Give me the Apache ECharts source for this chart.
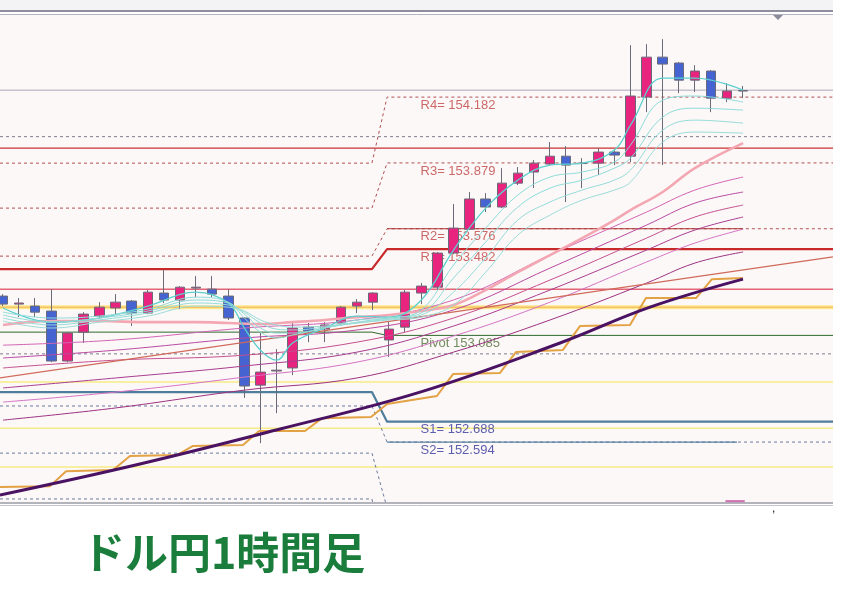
<!DOCTYPE html>
<html><head><meta charset="utf-8">
<script src="https://cdn.jsdelivr.net/npm/echarts@6/dist/echarts.min.js"></script>
<style>html,body{margin:0;padding:0;background:#fff}#c{width:842px;height:610px}</style>
</head><body><div id="c"></div>
<script>
// ---- candles (hourly USD/JPY), index = position in array ----
const candleOpen  = [153.266,153.229,153.220,153.197,152.967,153.100,153.174,153.211,153.243,153.188,153.280,153.248,153.303,153.298,153.266,153.165,152.856,152.921,152.935,153.123,153.114,153.142,153.220,153.238,153.064,153.123,153.280,153.307,153.464,153.574,153.713,153.676,153.786,153.837,153.874,153.910,153.878,153.878,153.929,153.910,154.182,154.366,154.339,154.260,154.302,154.177,154.210];
const candleClose = [153.229,153.234,153.192,152.967,153.096,153.183,153.215,153.238,153.188,153.284,153.248,153.307,153.307,153.275,153.165,152.852,152.916,152.925,153.119,153.105,153.133,153.215,153.238,153.280,153.114,153.284,153.312,153.464,153.579,153.713,153.676,153.786,153.832,153.878,153.910,153.869,153.876,153.929,153.915,154.187,154.366,154.334,154.260,154.302,154.177,154.210,154.212];
const candleLow   = [153.220,153.169,153.169,152.962,152.962,153.050,153.165,153.179,153.128,153.183,153.234,153.206,153.261,153.261,153.156,152.797,152.589,152.727,152.902,153.054,153.054,153.133,153.188,153.202,152.985,153.100,153.229,153.294,153.459,153.570,153.653,153.671,153.777,153.763,153.869,153.699,153.763,153.823,153.869,153.883,154.113,153.869,154.200,154.205,154.113,154.159,154.177];
const candleHigh  = [153.275,153.257,153.257,153.298,153.100,153.192,153.238,153.275,153.248,153.294,153.386,153.312,153.358,153.358,153.298,153.169,153.096,153.022,153.151,153.142,153.146,153.220,153.252,153.284,153.146,153.294,153.326,153.469,153.690,153.745,153.740,153.855,153.860,153.892,153.975,153.956,153.901,153.947,153.938,154.421,154.426,154.449,154.343,154.329,154.306,154.246,154.233];

// ---- fast moving averages (cyan group), read at these candle indices ----
const cyanIdx = [0,3,6,9,12,14,15,16,17,18,20,22,24,26,28,30,32,34,36,38,39,41,43,46];
const cyan1 = [153.211,153.146,153.165,153.220,153.284,153.234,153.119,153.017,152.971,153.050,153.119,153.174,153.169,153.248,153.478,153.671,153.800,153.869,153.878,153.938,154.053,154.269,154.269,154.214];
const cyan2 = [153.192,153.165,153.174,153.206,153.261,153.238,153.165,153.100,153.073,153.087,153.119,153.156,153.165,153.202,153.409,153.579,153.731,153.814,153.837,153.883,153.961,154.168,154.187,154.159];
const cyan3 = [153.179,153.146,153.165,153.197,153.248,153.234,153.183,153.119,153.096,153.096,153.119,153.146,153.165,153.188,153.349,153.515,153.676,153.763,153.800,153.855,153.901,154.090,154.131,154.122];
const cyan4 = [153.165,153.133,153.156,153.188,153.234,153.225,153.192,153.142,153.114,153.110,153.123,153.142,153.160,153.179,153.284,153.441,153.616,153.699,153.754,153.800,153.846,154.030,154.076,154.062];
const cyan5 = [153.151,153.119,153.146,153.174,153.220,153.215,153.197,153.156,153.133,153.123,153.128,153.142,153.156,153.169,153.225,153.376,153.547,153.639,153.708,153.754,153.791,153.975,154.021,154.016];

// ---- light pink thick average ----
const pinkIdx = [0,3,6,9,12,14,16,18,20,22,24,26,28,30,32,34,36,38,39,41,43,46];
const pinkSlow = [153.133,153.151,153.151,153.146,153.146,153.142,153.137,153.146,153.156,153.169,153.179,153.197,153.225,153.294,153.376,153.455,153.533,153.616,153.662,153.745,153.855,153.970];

// ---- slow moving averages (magenta group) ----
const magIdx = [0,7,15,22,28,34,40,43,46];
const mag1 = [153.040,153.064,153.119,153.156,153.248,153.455,153.653,153.754,153.814];
const mag2 = [152.981,153.017,153.073,153.110,153.202,153.395,153.593,153.694,153.745];
const mag3 = [152.935,152.971,152.994,153.054,153.165,153.340,153.533,153.630,153.685];
const mag4 = [152.843,152.889,152.944,153.008,153.128,153.294,153.478,153.570,153.630];
const mag5 = [152.778,152.824,152.893,152.962,153.082,153.238,153.423,153.510,153.574];
const mag6 = [152.695,152.751,152.833,152.889,153.008,153.156,153.326,153.418,153.469];

// ---- orange stair line, purple curve, red trend ----
const stairX = [-0.19,2.92,3.92,6.84,7.89,10.81,11.81,14.92,15.91,18.77,19.83,22.87,23.87,26.97,27.97,30.89,31.88,34.80,35.86,38.97,39.96,43.07,44.06,45.99];
const stairY = [152.387,152.391,152.460,152.465,152.530,152.534,152.576,152.580,152.645,152.645,152.704,152.709,152.769,152.806,152.907,152.912,153.008,153.018,153.128,153.133,153.257,153.257,153.344,153.349];
const purpleX = [-0.19,8.51,17.22,25.92,34.62,40.21,45.99];
const purpleY = [152.350,152.493,152.654,152.824,153.050,153.215,153.344];
const trendX = [-0.19,51.58];
const trendY = [152.889,153.446];

// ---- pivot levels: previous day and today ----
const levelNames = ['R4','R3','R2','R1','Pivot','S1','S2','S3','S4'];
const prevLevels  = [153.878,153.671,153.450,153.390,153.100,152.824,152.760,152.543,152.332];
const todayLevels = [154.182,153.879,153.576,153.482,153.085,152.688,152.594,152.291,151.988];
const levelLabels = ['R4= 154.182','R3= 153.879','R2= 153.576','R1= 153.482','Pivot 153.085','S1= 152.688','S2= 152.594'];

// ---- other horizontal levels ----
const greyLevel = [154.214];
const roundLevels = [154.000,153.000];
const redLevel = [153.947];
const pinkLevel = [153.298];
const yellowThick = [153.215];
const yellowLevels = [152.870,152.658,152.479];

// axis extents and day boundary positions (in candle-index units)
const xMin = -0.186, xMax = 51.585, yMin = 152.318, yMax = 154.560;
const dayEnd = 22.93, dayStart = 23.87, lastCandle = 45.99, labelX = 25.92;

const chart = echarts.init(document.getElementById('c'), null, {renderer:'canvas'});
const series = [];
function addLine(pts, color, width, type, z, smooth){
  series.push({type:'line', data:pts, showSymbol:false, symbol:'none', smooth:smooth||false,
    lineStyle:{color:color, width:width, type:type||'solid'},
    z:z||3, silent:true, animation:false});
}
const zip = (xs, ys) => xs.map((x,i)=>[x, ys[i]]);

// full width levels
greyLevel.forEach(v=>addLine([[xMin,v],[xMax,v]],'#a8a8b8',1,'solid',1));
roundLevels.forEach(v=>addLine([[xMin,v],[xMax,v]],'#7c7c8c',1,[3,3],1));
redLevel.forEach(v=>addLine([[xMin,v],[xMax,v]],'#c83232',1.3,'solid',1));
pinkLevel.forEach(v=>addLine([[xMin,v],[xMax,v]],'#e26475',1.5,'solid',1));
yellowThick.forEach(v=>{addLine([[xMin,v],[xMax,v]],'#ffe98e',4,'solid',1); addLine([[xMin,v],[xMax,v]],'#f2b055',1,'solid',1);});
yellowLevels.forEach(v=>addLine([[xMin,v],[xMax,v]],'#f6ec86',1.5,'solid',1));

// pivot step lines
const levelStyle = {
  R4:['#b05050',1,[3,3]], R3:['#b05050',1,[3,3]], R2:['#b05050',1,[3,3]], R1:['#c82828',2.2,'solid'],
  Pivot:['#2e6a2e',1,'solid'], S1:['#4f7d9c',2.2,'solid'], S2:['#6a7a9a',1,[3,3]], S3:['#6a7a9a',1,[3,3]], S4:['#6a7a9a',1,[3,3]]
};
levelNames.forEach((n,i)=>{
  const st = levelStyle[n];
  addLine([[xMin,prevLevels[i]],[dayEnd,prevLevels[i]],[dayStart,todayLevels[i]],[xMax,todayLevels[i]]], st[0], st[1], st[2], 1);
});
addLine([[dayStart,todayLevels[2]],[lastCandle,todayLevels[2]]],'#b03434',1,'solid',1);
addLine([[dayStart,todayLevels[6]],[45.62,todayLevels[6]]],'#5a80a2',1.3,'solid',1);

// level labels (drawn beneath the candles)
const labelColors = levelLabels.map((t,i)=> i<4 ? '#c04444' : (i===4 ? '#4c7034' : '#32369a'));
series.push({type:'scatter', symbol:'circle', symbolSize:1, silent:true, z:1, animation:false,
  itemStyle:{color:'rgba(0,0,0,0)'},
  data: levelLabels.map((t,i)=>({value:[labelX, todayLevels[i]], name:t,
    label:{color:labelColors[i]}})),
  label:{show:true, position:'right', distance:0, offset:[0,8], formatter:p=>p.name,
    fontFamily:'Liberation Sans, Arial, sans-serif', fontSize:13}
});

// candles
series.push({type:'candlestick', z:2, animation:false, barWidth:10,
  encode:{x:0, y:[1,2,3,4]},
  data: candleOpen.map((o,i)=>[i, o, candleClose[i], candleLow[i], candleHigh[i]]),
  itemStyle:{color:'#e8247f', color0:'#4564d2', borderColor:'#6a6a78', borderColor0:'#6a6a78', borderWidth:1}
});

// averages
const magColors = ['#d264b4','#b84aa2','#c4508e','#a83c90','#d474c4','#9c3282'];
[mag1,mag2,mag3,mag4,mag5,mag6].forEach((m,k)=>addLine(zip(magIdx,m), magColors[k], 1, 'solid', 3, 0.4));
addLine(zip(trendX,trendY),'#d06a5a',1.3,'solid',3);
addLine(zip(pinkIdx,pinkSlow),'#f3a7b2',2.6,'solid',3,0.4);
const cyanColors = ['#5ccfcf','#8ddcd8','#8ddcd8','#94dcd8','#9adcd8'];
[cyan1,cyan2,cyan3,cyan4,cyan5].forEach((c,k)=>addLine(zip(cyanIdx,c), cyanColors[k], k===0?1.3:1, 'solid', 4, 0.4));
addLine(zip(stairX,stairY),'#e3a244',2,'solid',4);
addLine(zip(purpleX,purpleY),'#4a1262',3,'solid',5,0.4);
addLine([[44.9,152.322],[46.1,152.322]],'#d070b0',2,'solid',5);

chart.setOption({
  animation:false,
  backgroundColor:'#ffffff',
  title:{text:'ドル円1時間足', left:77, top:526,
    textStyle:{fontFamily:'Noto Sans CJK JP', fontSize:43, fontWeight:'bold', color:'#1b7d3c'}},
  grid:{left:0, top:15, width:833, height:487, show:true, backgroundColor:'#fdf8f8', borderWidth:0, containLabel:false},
  xAxis:{type:'value', min:xMin, max:xMax, show:false, splitLine:{show:false}},
  yAxis:{type:'value', min:yMin, max:yMax, show:false, splitLine:{show:false}, scale:true},
  graphic:[
    {type:'rect', shape:{x:0,y:0,width:833,height:10}, style:{fill:'#f3f3f5'}, silent:true},
    {type:'line', shape:{x1:0,y1:11,x2:833,y2:11}, style:{stroke:'#8e8e9c', lineWidth:2}, silent:true},
    {type:'line', shape:{x1:0,y1:14.5,x2:833,y2:14.5}, style:{stroke:'#b4b4c0', lineWidth:1}, silent:true},
    {type:'polygon', shape:{points:[[773,15],[783,15],[778,20]]}, style:{fill:'#8a8a98'}, silent:true},
    {type:'line', shape:{x1:0,y1:503,x2:833,y2:503}, style:{stroke:'#9a9aa6', lineWidth:1.5}, silent:true},
    {type:'line', shape:{x1:0,y1:505.5,x2:833,y2:505.5}, style:{stroke:'#c4c4cc', lineWidth:1}, silent:true},
    {type:'text', x:772, y:503, style:{text:',', fill:'#222', fontSize:12, fontFamily:'Liberation Sans'}, silent:true}
  ],
  series: series
});
</script></body></html>
